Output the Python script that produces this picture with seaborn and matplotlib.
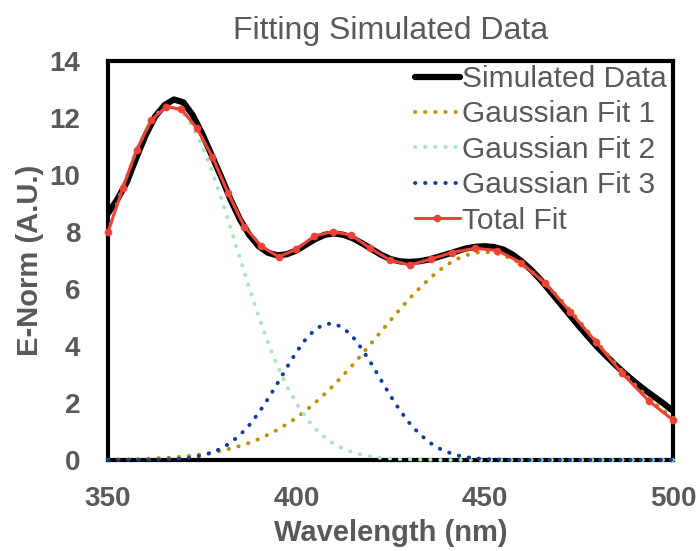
import numpy as np
import pandas as pd
import seaborn as sns
import matplotlib.pyplot as plt

# wavelength grid used for the smooth curves (nm)
wl = [350.0, 352.5, 355.0, 357.5, 360.0, 362.5, 365.0, 367.5, 370.0, 372.5,
      375.0, 377.5, 380.0, 382.5, 385.0, 387.5, 390.0, 392.5, 395.0, 397.5,
      400.0, 402.5, 405.0, 407.5, 410.0, 412.5, 415.0, 417.5, 420.0, 422.5,
      425.0, 427.5, 430.0, 432.5, 435.0, 437.5, 440.0, 442.5, 445.0, 447.5,
      450.0, 452.5, 455.0, 457.5, 460.0, 462.5, 465.0, 467.5, 470.0, 472.5,
      475.0, 477.5, 480.0, 482.5, 485.0, 487.5, 490.0, 492.5, 495.0, 497.5,
      500.0]

simulated = [8.65, 9.15, 9.75, 10.60, 11.40, 12.05, 12.45, 12.65, 12.55, 12.10,
             11.45, 10.70, 9.95, 9.15, 8.45, 7.90, 7.50, 7.27, 7.18, 7.22,
             7.35, 7.55, 7.75, 7.90, 7.95, 7.90, 7.78, 7.60, 7.40, 7.20,
             7.05, 6.97, 6.95, 6.97, 7.03, 7.12, 7.22, 7.32, 7.42, 7.48,
             7.50, 7.47, 7.38, 7.20, 6.95, 6.65, 6.30, 5.90, 5.50, 5.10,
             4.70, 4.32, 3.95, 3.62, 3.30, 3.00, 2.72, 2.46, 2.22, 1.98,
             1.72]

gauss1 = [0.01, 0.02, 0.02, 0.03, 0.04, 0.06, 0.07, 0.09, 0.12, 0.16,
          0.20, 0.26, 0.32, 0.40, 0.49, 0.60, 0.73, 0.89, 1.06, 1.26,
          1.48, 1.73, 2.01, 2.31, 2.63, 2.98, 3.34, 3.72, 4.11, 4.51,
          4.90, 5.29, 5.66, 6.00, 6.32, 6.61, 6.85, 7.04, 7.18, 7.27,
          7.30, 7.27, 7.18, 7.04, 6.85, 6.61, 6.32, 6.00, 5.66, 5.29,
          4.90, 4.51, 4.11, 3.72, 3.34, 2.98, 2.63, 2.31, 2.01, 1.73,
          1.48]

gauss2 = [7.95, 9.00, 9.99, 10.86, 11.57, 12.08, 12.35, 12.38, 12.15, 11.69,
          11.02, 10.18, 9.21, 8.16, 7.09, 6.04, 5.03, 4.11, 3.29, 2.58,
          1.99, 1.49, 1.10, 0.80, 0.56, 0.39, 0.27, 0.18, 0.12, 0.07,
          0.05, 0.03, 0.02, 0.01, 0.01, 0.00, 0.00, 0.00, 0.00, 0.00,
          0.00, 0.00, 0.00, 0.00, 0.00, 0.00, 0.00, 0.00, 0.00, 0.00,
          0.00, 0.00, 0.00, 0.00, 0.00, 0.00, 0.00, 0.00, 0.00, 0.00,
          0.00]

gauss3 = [0.00, 0.00, 0.00, 0.00, 0.00, 0.01, 0.02, 0.03, 0.05, 0.09,
          0.16, 0.25, 0.40, 0.60, 0.87, 1.22, 1.65, 2.15, 2.69, 3.25,
          3.78, 4.24, 4.58, 4.77, 4.79, 4.63, 4.32, 3.88, 3.36, 2.80,
          2.25, 1.74, 1.30, 0.94, 0.65, 0.43, 0.28, 0.17, 0.10, 0.06,
          0.03, 0.02, 0.01, 0.00, 0.00, 0.00, 0.00, 0.00, 0.00, 0.00,
          0.00, 0.00, 0.00, 0.00, 0.00, 0.00, 0.00, 0.00, 0.00, 0.00,
          0.00]

# total fit points (markers)
fit_wl = [350.0, 353.9, 357.6, 361.5, 365.5, 369.5, 373.6, 377.7, 381.9, 386.2,
          390.7, 395.3, 400.0, 404.8, 409.7, 414.6, 419.6, 424.8, 430.2, 435.7,
          441.4, 447.4, 453.4, 459.7, 466.1, 472.7, 479.5, 486.5, 493.6, 500.0]
total_fit = [8.00, 9.53, 10.88, 11.93, 12.40, 12.30, 11.64, 10.64, 9.36, 8.19,
             7.50, 7.13, 7.39, 7.86, 8.01, 7.89, 7.43, 7.02, 6.84, 7.05,
             7.28, 7.43, 7.35, 6.92, 6.20, 5.20, 4.15, 3.04, 2.07, 1.40]

curves = pd.DataFrame({"wl": wl, "sim": simulated, "g1": gauss1,
                       "g2": gauss2, "g3": gauss3})
fit = pd.DataFrame({"wl": fit_wl, "total": total_fit})

sns.set_style("white")
plt.rcParams["font.family"] = ["Liberation Sans", "DejaVu Sans"]
gray = "#595959"

fig = plt.figure(figsize=(6.99, 5.51), dpi=100)
ax = fig.add_axes([0.1545, 0.1652, 0.8083, 0.7241])

sns.lineplot(data=curves, x="wl", y="sim", color="black", lw=4.5,
             label="Simulated Data", ax=ax, zorder=3)
dots = (0, (0.1, 2.5))
sns.lineplot(data=curves, x="wl", y="g1", color="#BF9000", lw=2.8,
             linestyle=dots, dash_capstyle="round", label="Gaussian Fit 1",
             ax=ax, zorder=4, clip_on=False)
sns.lineplot(data=curves, x="wl", y="g2", color="#A8E4BC", lw=2.8,
             linestyle=dots, dash_capstyle="round", label="Gaussian Fit 2",
             ax=ax, zorder=4, clip_on=False)
sns.lineplot(data=curves, x="wl", y="g3", color="#0B3C9E", lw=2.8,
             linestyle=dots, dash_capstyle="round", label="Gaussian Fit 3",
             ax=ax, zorder=4, clip_on=False)
sns.lineplot(data=fit, x="wl", y="total", color="#EF4136", lw=2.2,
             marker="o", markersize=5.5, markeredgewidth=0, label="Total Fit",
             ax=ax, zorder=5, clip_on=False)

ax.set_xlim(350, 500)
ax.set_ylim(0, 14)
ax.set_xticks([350, 400, 450, 500])
ax.set_yticks(range(0, 15, 2))

for s in ax.spines.values():
    s.set_visible(True)
    s.set_color("black")
    s.set_linewidth(3)

ax.tick_params(axis="both", direction="in", length=6, width=2.2,
               colors="black", labelcolor=gray, labelsize=20)
ax.tick_params(axis="x", pad=19)
ax.tick_params(axis="y", pad=20)
for lab in ax.get_xticklabels() + ax.get_yticklabels():
    lab.set_fontweight("bold")

ax.set_xlabel("Wavelength (nm)", fontsize=21, fontweight="bold", color=gray,
              labelpad=5)
ax.set_ylabel("E-Norm (A.U.)", fontsize=21, fontweight="bold", color=gray,
              labelpad=4)
ax.set_title("Fitting Simulated Data", fontsize=23, color=gray, pad=16)

leg = ax.legend(loc="upper left", bbox_to_anchor=(0.543, 0.99), frameon=False,
                fontsize=21.5, handlelength=1.5, handletextpad=0.07,
                labelspacing=0.25, borderpad=0, borderaxespad=0)
for t in leg.get_texts():
    t.set_color(gray)

fig.savefig("out.png", dpi=100)
